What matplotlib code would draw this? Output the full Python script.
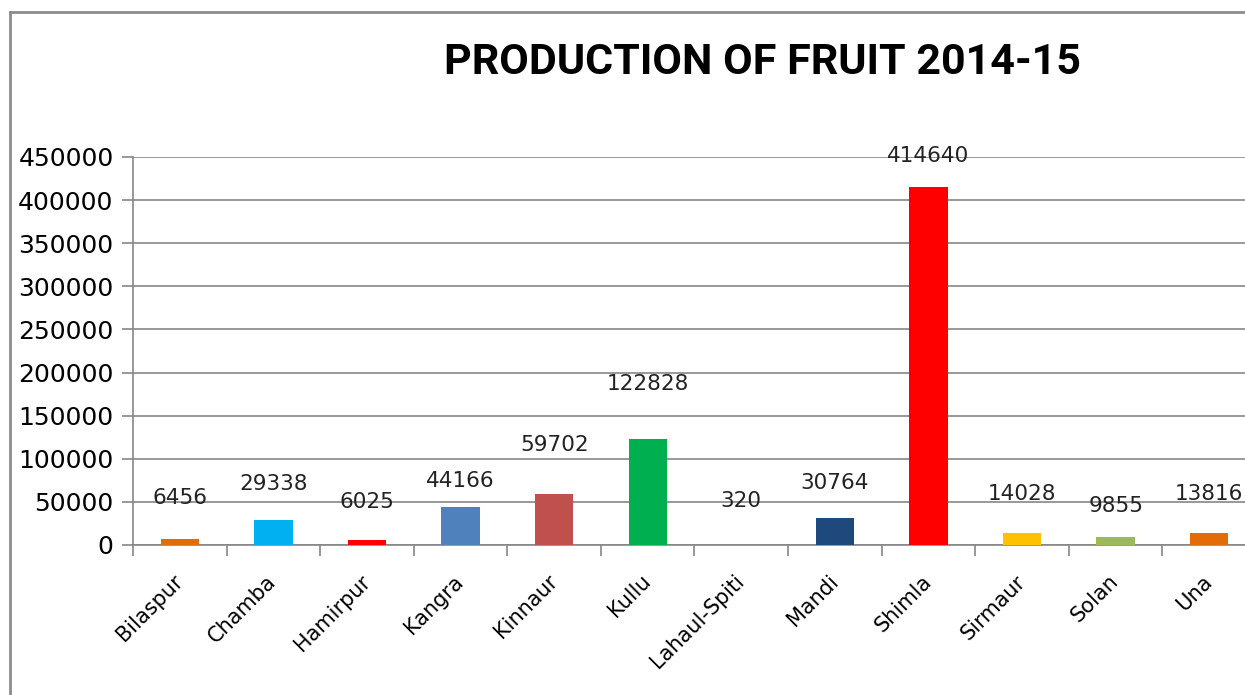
import numpy as np
import matplotlib.pyplot as plt
import matplotlib.transforms as mtransforms
from matplotlib.lines import Line2D

# data
districts = ['Bilaspur', 'Chamba', 'Hamirpur', 'Kangra', 'Kinnaur', 'Kullu',
             'Lahaul-Spiti', 'Mandi', 'Shimla', 'Sirmaur', 'Solan', 'Una']
production = [6456, 29338, 6025, 44166, 59702, 122828, 320, 30764, 414640, 14028, 9855, 13816]
bar_colors = ['#E36C09', '#00B0F0', '#FF0000', '#4F81BD', '#C0504D', '#00B050',
              '#8064A2', '#1F497D', '#FF0000', '#FFC000', '#9BBB59', '#E36C09']
# how far above each bar its value label sits (data units, as dragged in the original)
label_lift = [47700, 41400, 44200, 30400, 56300, 63900, 51100, 41500, 36400, 45200, 35700, 45400]

W, H = 1245, 695
fig = plt.figure(figsize=(W / 100, H / 100), dpi=100)

ax = fig.add_axes([133 / W, (H - 545) / H, 1123 / W, 388 / H])
x = np.arange(len(districts))
ax.bar(x, production, width=0.41, color=bar_colors, zorder=3)

for xi, v, lift in zip(x, production, label_lift):
    ax.text(xi, v + lift, str(v), ha='center', va='center', fontsize=15.5,
            color='#222222', zorder=4)

grey = '#868686'
ax.set_ylim(0, 450000)
ax.set_xlim(-0.5, len(districts) - 0.5)
ax.set_yticks(np.arange(0, 450001, 50000))
ax.yaxis.grid(True, color=grey, linewidth=1.2, zorder=0)
ax.set_axisbelow(True)

ax.set_xticks(x)
ax.set_xticklabels(districts, rotation=45, ha='right', va='center',
                   rotation_mode='anchor', fontsize=15)
shift = mtransforms.ScaledTranslation(5 / 100, 0, fig.dpi_scale_trans)
for lab in ax.get_xticklabels():
    lab.set_transform(lab.get_transform() + shift)
ax.set_xticks(np.arange(-0.5, len(districts) + 0.5, 1), minor=True)
ax.tick_params(axis='x', which='major', length=0, pad=24)
ax.tick_params(axis='x', which='minor', length=8, color=grey, width=1.2)
ax.tick_params(axis='y', length=8, color=grey, width=1.2, labelsize=18, pad=6)
for s in ['top', 'right']:
    ax.spines[s].set_visible(False)
for s in ['left', 'bottom']:
    ax.spines[s].set_color(grey)
    ax.spines[s].set_linewidth(1.2)

fig.text(762 / W, 1 - 63 / H, 'PRODUCTION OF FRUIT 2014-15', ha='center', va='center',
         fontsize=31, fontweight='bold', family=['Roboto', 'DejaVu Sans'])

# chart frame (cropped at right and bottom)
fig.add_artist(Line2D([10 / W, 1], [1 - 12 / H, 1 - 12 / H], color='#8c8c8c', linewidth=2))
fig.add_artist(Line2D([10 / W, 10 / W], [1 - 12 / H, 0], color='#8c8c8c', linewidth=2))

plt.savefig('out.png', dpi=100)
